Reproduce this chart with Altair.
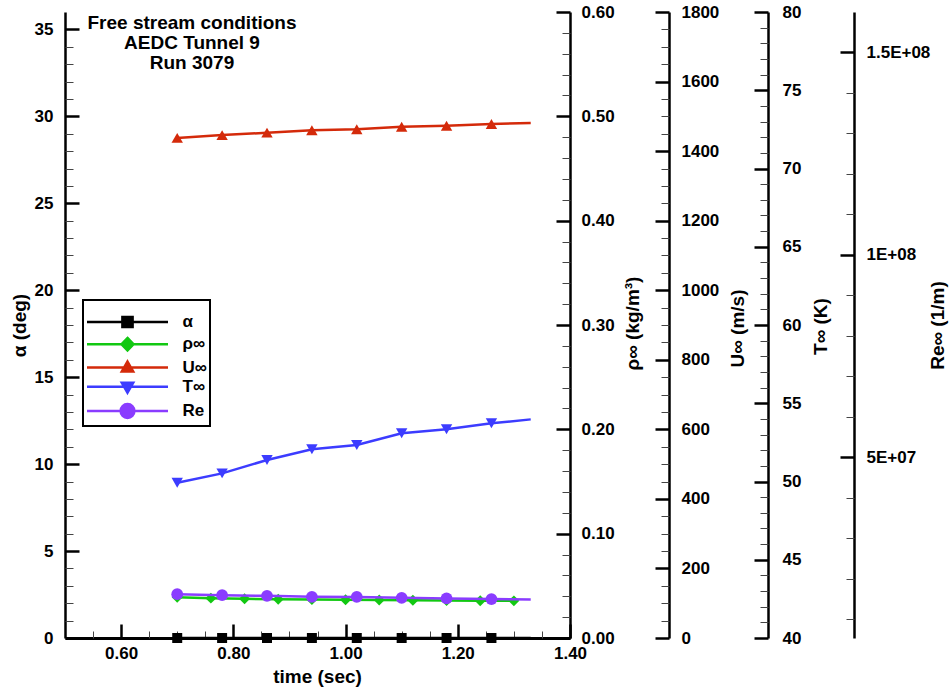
import altair as alt
import pandas as pd

# ---------------- data ----------------
t_main = [0.70, 0.78, 0.86, 0.94, 1.02, 1.10, 1.18, 1.26, 1.33]
marker_main = [True, True, True, True, True, True, True, True, False]
alpha_deg = [0, 0, 0, 0, 0, 0, 0, 0, 0]
u_inf = [1438, 1446, 1453, 1460, 1463, 1470, 1473, 1478, 1481]
t_inf = [49.92, 50.52, 51.37, 52.06, 52.33, 53.08, 53.34, 53.72, 53.97]
re_inf = [1.614e7, 1.589e7, 1.572e7, 1.547e7, 1.545e7, 1.523e7, 1.508e7, 1.491e7, 1.483e7]

t_rho = [0.70, 0.76, 0.82, 0.88, 0.94, 1.00, 1.06, 1.12, 1.18, 1.24, 1.30]
marker_rho = [True] * 11
rho_inf = [0.0390, 0.0382, 0.0376, 0.0372, 0.0368, 0.0366, 0.0364, 0.0362, 0.0360, 0.0358, 0.0356]

series_names = ["α", "ρ∞", "U∞", "T∞", "Re"]
series_colors = ["#000000", "#12c812", "#d42a0a", "#3c3cff", "#8a3cff"]
title_lines = ["Free stream conditions", "AEDC Tunnel 9", "Run 3079"]

x_major = [0.6, 0.8, 1.0, 1.2, 1.4]
x_minor = [0.55, 0.65, 0.70, 0.75, 0.85, 0.90, 0.95, 1.05, 1.10, 1.15, 1.25, 1.30, 1.35]
a_major = [0, 5, 10, 15, 20, 25, 30, 35]
a_minor = [i for i in range(1, 36) if i % 5]
r_major = [0.0, 0.1, 0.2, 0.3, 0.4, 0.5, 0.6]
r_minor = [round(0.02 * i, 2) for i in range(1, 30) if i % 5]
u_major = [0, 200, 400, 600, 800, 1000, 1200, 1400, 1600, 1800]
u_minor = [50 * i for i in range(1, 36) if i % 4]
tk_major = [40, 45, 50, 55, 60, 65, 70, 75, 80]
tk_minor = [40 + i for i in range(1, 40) if i % 5]
re_major = [5e7, 1e8, 1.5e8]
re_minor = [1e7 * i for i in range(1, 16) if i % 5]

# ---------------- styling ----------------
FONT = "Liberation Sans"
W, H = 505, 626

legend_paths = [
    "M-6.75,0H6.75M-0.85,-0.85H0.85V0.85H-0.85Z",
    "M-6.75,0H6.75M0,-1.05L1,0L0,1.05L-1,0Z",
    "M-6.75,0H6.75M0,-1.0L0.95,0.65L-0.95,0.65Z",
    "M-6.75,0H6.75M0,1.0L0.95,-0.65L-0.95,-0.65Z",
    "M-6.75,0H6.75M1.15,0A1.15,1.15,0,1,1,-1.15,0A1.15,1.15,0,1,1,1.15,0Z",
]

xs = alt.Scale(domain=[0.5, 1.4], nice=False, zero=False)


def yscale(dom):
    return alt.Scale(domain=dom, nice=False, zero=False)


def lab_axis(orient, offset, values, title, tx, ty, pad, fmt=None, expr=None, angle=270):
    kw = dict(orient=orient, offset=offset, values=values, ticks=False, tickSize=0,
              domain=True, domainWidth=2.5, domainColor="black",
              labelPadding=pad, labelFlush=False, labelOverlap=False,
              title=title, titleAngle=angle, titleX=tx, titleY=ty,
              titleAlign="center", titleBaseline="middle", grid=False)
    if fmt:
        kw["format"] = fmt
    if expr:
        kw["labelExpr"] = expr
    return alt.Axis(**kw)


def tick_axis(orient, offset, values, size, width, color):
    return alt.Axis(orient=orient, offset=offset, values=values, labels=False,
                    domain=False, ticks=True, tickSize=size, tickWidth=width,
                    tickColor=color, title=None, grid=False)


def series_layers(t, v, m, color, shape, size, dom, ax_lab, ax_major, ax_minor,
                  xl=None, xmaj=None, xmin=None):
    df = pd.DataFrame({"t": t, "v": v, "m": m})
    ys = yscale(dom)
    line = alt.Chart(df).mark_line(color=color, strokeWidth=2.5).encode(
        x=alt.X("t:Q", scale=xs, axis=xl),
        y=alt.Y("v:Q", scale=ys, axis=ax_lab),
    )
    pts = alt.Chart(df).transform_filter("datum.m").mark_point(
        shape=shape, size=size, filled=True, color=color, opacity=1
    ).encode(
        x=alt.X("t:Q", scale=xs, axis=xmaj),
        y=alt.Y("v:Q", scale=ys, axis=ax_major),
    )
    dummy = alt.Chart(df.head(1)).mark_point(opacity=0).encode(
        x=alt.X("t:Q", scale=xs, axis=xmin),
        y=alt.Y("v:Q", scale=ys, axis=ax_minor),
    )
    return [line, pts, dummy]


x_lab_axis = alt.Axis(orient="bottom", values=x_major, format=".2f", ticks=False, tickSize=0,
                      domain=True, domainWidth=3, domainColor="black", labelPadding=7,
                      labelFlush=False, labelOverlap=False, title="time (sec)",
                      titleX=252, titleY=38, titleAlign="center", titleBaseline="middle",
                      grid=False)
x_major_axis = tick_axis("top", -H, x_major, 14, 2.5, "black")
x_minor_axis = tick_axis("top", -H, x_minor, 7, 1, "#444444")

layers = []
layers += series_layers(
    t_main, alpha_deg, marker_main, series_colors[0], "square", 100, [0, 36],
    lab_axis("left", 0, a_major, "α (deg)", -46, 313, 12),
    tick_axis("right", -W, a_major, 14, 2.5, "black"),
    tick_axis("right", -W, a_minor, 8, 1, "#444444"),
    x_lab_axis, x_major_axis, x_minor_axis,
)
layers += series_layers(
    t_rho, rho_inf, marker_rho, series_colors[1], "diamond", 120, [0, 0.6],
    lab_axis("right", 0, r_major, "ρ∞ (kg/m³)", 62, 311, 11, fmt=".2f"),
    tick_axis("left", -W, r_major, 14, 2.5, "black"),
    tick_axis("left", -W, r_minor, 8, 1, "#444444"),
)
layers += series_layers(
    t_main, u_inf, marker_main, series_colors[2], "triangle-up", 130, [0, 1800],
    lab_axis("right", 99, u_major, "U∞ (m/s)", 68, 316, 12, fmt="d"),
    tick_axis("left", -(W + 99), u_major, 14, 2.5, "black"),
    tick_axis("left", -(W + 99), u_minor, 8, 1, "#444444"),
)
layers += series_layers(
    t_main, t_inf, marker_main, series_colors[3], "triangle-down", 130, [40, 80],
    lab_axis("right", 198, tk_major, "T∞ (K)", 52, 314, 14, fmt="d"),
    tick_axis("left", -(W + 198), tk_major, 14, 2.5, "black"),
    tick_axis("left", -(W + 198), tk_minor, 8, 1, "#444444"),
)
layers += series_layers(
    t_main, re_inf, marker_main, series_colors[4], "circle", 140, [5.3e6, 1.6e8],
    lab_axis("right", 284, re_major, "Re∞ (1/m)", 83, 313, 12,
             expr="datum.value == 5e7 ? '5E+07' : datum.value == 1e8 ? '1E+08' : '1.5E+08'"),
    tick_axis("left", -(W + 284), re_major, 14, 2.5, "black"),
    tick_axis("left", -(W + 284), re_minor, 8, 1, "#444444"),
)

legend = alt.Legend(
    orient="none", legendX=18, legendY=288, title=" ", titleFontSize=7, titlePadding=4,
    padding=2.5, rowPadding=0.25, symbolSize=144, symbolStrokeWidth=2.5,
    symbolOffset=33.5, labelOffset=46.5, labelFont=FONT, labelFontSize=17,
    labelFontWeight="bold", labelColor="black", strokeColor="black", fillColor="white",
    direction="vertical", symbolOpacity=1,
)
leg_df = pd.DataFrame({"series": series_names, "t": [3.0] * 5, "v": [5.0] * 5})
leg = alt.Chart(leg_df).mark_point(filled=True, clip=True, strokeWidth=2.5, opacity=1).encode(
    x=alt.X("t:Q", scale=xs, axis=None),
    y=alt.Y("v:Q", scale=yscale([0, 1]), axis=None),
    fill=alt.Fill("series:N", scale=alt.Scale(domain=series_names, range=series_colors), legend=legend),
    stroke=alt.Stroke("series:N", scale=alt.Scale(domain=series_names, range=series_colors), legend=legend),
    shape=alt.Shape("series:N", scale=alt.Scale(domain=series_names, range=legend_paths), legend=legend),
)
layers.append(leg)

title = alt.TitleParams(
    text=title_lines, anchor="start", align="center", dx=127, dy=70, baseline="top",
    font=FONT, fontSize=19, fontWeight="bold", lineHeight=20, offset=0, frame="group",
    color="black",
)

chart = (
    alt.layer(*layers)
    .resolve_scale(y="independent")
    .resolve_axis(x="independent", y="independent")
    .properties(
        width=W, height=H, title=title,
        padding={"left": 65, "top": 12, "right": 379, "bottom": 56},
        autosize=alt.AutoSizeParams(type="none"), background="white",
    )
    .configure_view(strokeWidth=0)
    .configure_axis(labelFont=FONT, labelFontSize=17, labelFontWeight="bold", labelColor="black",
                    titleFont=FONT, titleFontSize=19, titleFontWeight="bold", titleColor="black",
                    grid=False)
    .configure_legend(strokeWidth=2)
)

chart.save("out.html", embed_options={"renderer": "svg", "actions": False})
